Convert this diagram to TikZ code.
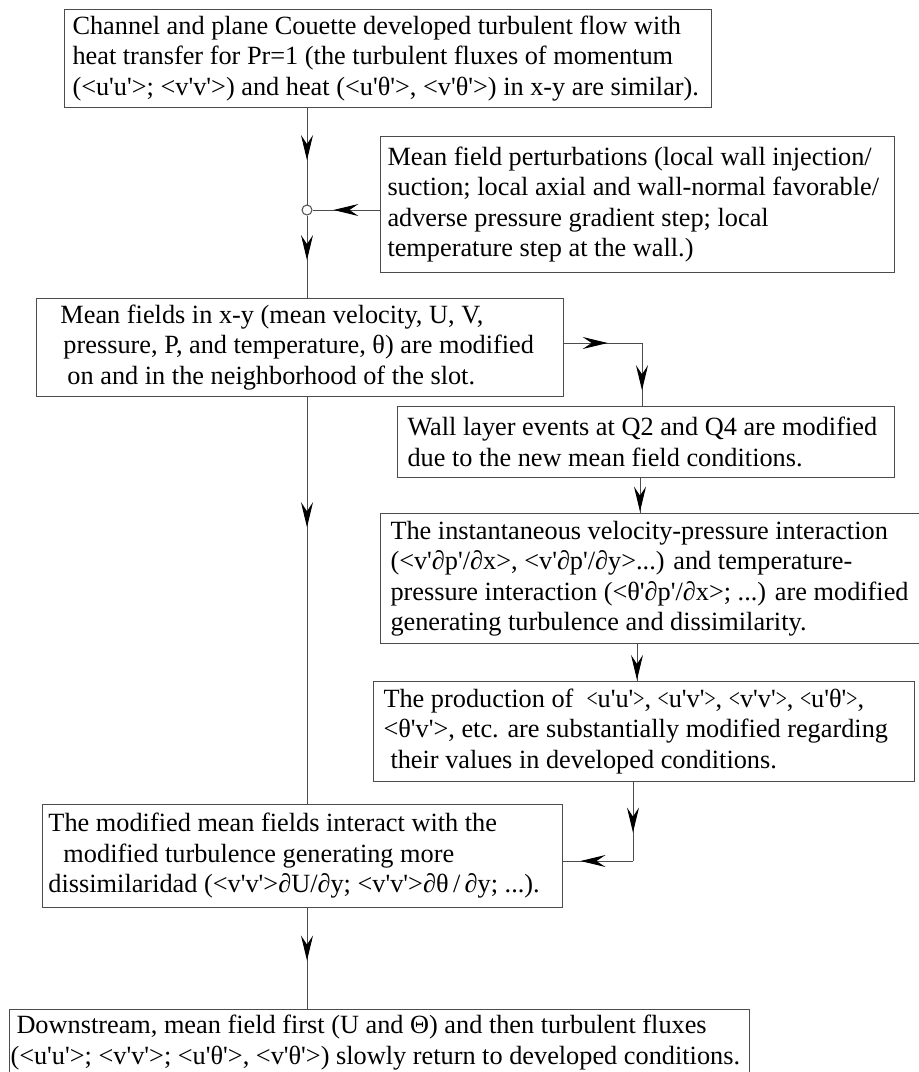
\documentclass[tikz,border=0pt]{standalone}
\usepackage{fontspec}
\setmainfont{Liberation Serif}[Ligatures=TeXOff]
\usepackage{tikz}
\usetikzlibrary{
    arrows.meta,
    calc,
    decorations.markings
}
\newcommand{\flowfont}{\fontsize{26.3}{30.5}\selectfont}
\newcommand{\nbr}[1]{\scalebox{0.75}[1]{#1}}
\tikzset{
    box/.style={draw=black!70, line width=1pt, anchor=north west, align=flush left,
        inner xsep=8pt, inner ysep=0pt, font=\flowfont},
    link/.style={draw=black!70, line width=1pt},
    marrow/.style={postaction={decorate}, decoration={markings,
        mark=at position #1 with {\arrow{Stealth[length=25pt, width=12pt, inset=9pt, color=black]}}}}
}

\begin{document}
\begin{tikzpicture}[x=1pt, y=-1pt]
            \useasboundingbox (0,0) rectangle (919,1072);

            % Developed flow
            \node[box, minimum width=647, minimum height=98, text width=631] (flow) at (64,9)
                {Channel and plane Couette developed turbulent flow with\\
                 \mbox{heat transfer for Pr=1 (the turbulent fluxes of momentum}\\
                 \mbox{(<u'u'>; <v'v'>) and heat (<u'θ'>, <v'θ'>) in x-y are similar).}};

            % Perturbations
            \node[box, minimum width=514, minimum height=136, text width=500, inner xsep=7pt] (perturb) at (380,136)
                {\mbox{Mean field perturbations (local wall injection/}\\
                 \mbox{suction; local axial and wall-normal favorable/}\\
                 adverse pressure gradient step; local\\
                 temperature step at the wall.)};

            % Mean fields
            \node[box, minimum width=527, minimum height=98, text width=511] (meanfld) at (36,298)
                {\hspace*{16pt}Mean fields in x-y (mean velocity, U, V,\\
                 \mbox{\hspace*{19pt}pressure, P, and temperature, θ) are modified}\\
                 \hspace*{23pt}on and in the neighborhood of the slot.};

            % Wall layer
            \node[box, minimum width=497, minimum height=71, text width=477, inner xsep=10pt] (walllayer) at (397,406)
                {\mbox{Wall layer events at Q2 and Q4 are modified}\\
                 due to the new mean field conditions.};

            % Velocity-pressure interaction
            \node[box, minimum width=560, minimum height=130, text width=540, inner xsep=10pt] (interact) at (380,513)
                {\mbox{The instantaneous velocity-pressure interaction}\\
                 \mbox{(<v'∂p'/∂x>, <v'∂p'/∂y>...) and temperature-}\\
                 \mbox{pressure interaction (<θ'∂p'/∂x>; ...) are modified}\\
                 generating turbulence and dissimilarity.};

            % Production
            \node[box, minimum width=541, minimum height=100, text width=521, inner xsep=10pt] (production) at (373,681)
                {\mbox{The production of \ \nbr{<}u'u'\nbr{>}, \nbr{<}u'v'\nbr{>}, \nbr{<}v'v'\nbr{>}, \nbr{<}u'θ'\nbr{>},}\\
                 \mbox{<θ'v'>, etc. are substantially modified regarding}\\
                 \hspace*{7pt}their values in developed conditions.};

            % Dissimilarity
            \node[box, minimum width=520, minimum height=103, text width=508, inner xsep=6pt] (dissim) at (42,804)
                {The modified mean fields interact with the\\
                 \hspace*{15pt}modified turbulence generating more\\
                 \mbox{dissimilaridad (<v'v'>∂U/∂y; <v'v'>∂θ\,/\,∂y; ...).}};

            % Downstream
            \node[box, minimum width=740, minimum height=66, text width=738, inner xsep=1pt] (downstream) at (9,1009)
                {\hspace*{6pt}Downstream, mean field first (U and Θ) and then turbulent fluxes\\
                 \mbox{(<u'u'>; <v'v'>; <u'θ'>, <v'θ'>) slowly return to developed conditions.}};

            % Junction and bends
            \coordinate (spine) at (307,0);
            \node[circle, draw=black!70, line width=1pt, fill=white, inner sep=0pt, minimum size=10pt] (junc) at (307,210) {};
            \coordinate (bendA) at (642,343);
            \coordinate (dropB) at (640,0);
            \coordinate (dropC) at (637,0);
            \coordinate (bendD) at (633,861);

            % Connectors
            \draw[link, marrow=0.54] (flow.south -| spine) -- (junc.north);
            \draw[link, marrow=0.54] (junc.south) -- (meanfld.north -| spine);
            \draw[link, marrow=0.69] (perturb.west |- junc) -- (junc.east);
            \draw[link, marrow=0.56] (meanfld.east |- bendA) -- (bendA);
            \draw[link, marrow=0.75] (bendA) -- (walllayer.north -| bendA);
            \draw[link, marrow=0.96] (walllayer.south -| dropB) -- (interact.north -| dropB);
            \draw[link, marrow=0.97] (interact.south -| dropC) -- (production.north -| dropC);
            \draw[link, marrow=0.64] (production.south -| bendD) -- (bendD);
            \draw[link, marrow=0.75] (bendD) -- (dissim.east |- bendD);
            \draw[link, marrow=0.32] (meanfld.south -| spine) -- (dissim.north -| spine);
            \draw[link, marrow=0.52] (dissim.south -| spine) -- (downstream.north -| spine);
        \end{tikzpicture}
\end{document}
